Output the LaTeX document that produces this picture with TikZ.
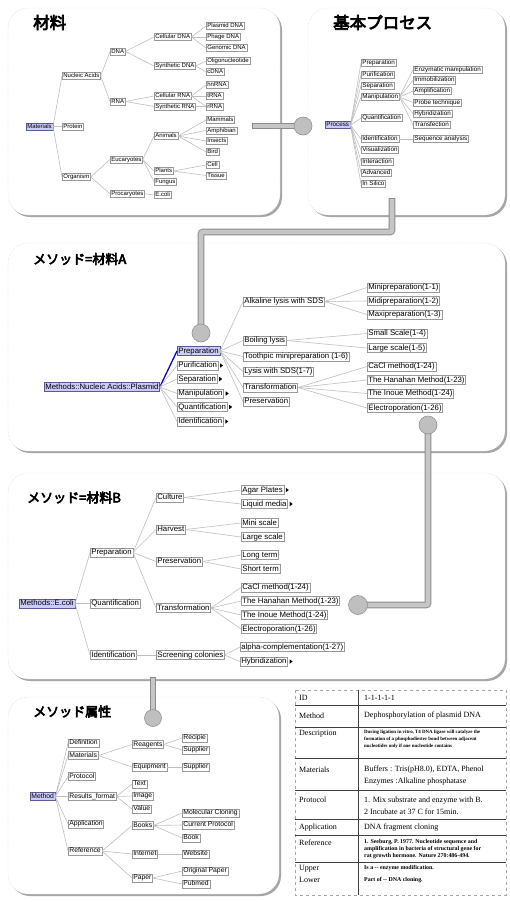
\documentclass[tikz,border=0pt]{standalone}
\usepackage{fontspec}
\setmainfont{Liberation Sans}
\newfontfamily\cjk[FakeBold=4.5]{Noto Sans CJK JP}
\newfontfamily\serf{Liberation Serif}
\usetikzlibrary{shadows}
\definecolor{rootblue}{RGB}{204,204,250}
\definecolor{rootedge}{RGB}{90,90,150}
\newcommand\mypanel[4]{%
  \fill[gray!70,rounded corners=20pt] (#1+2,#2+2) rectangle (#3+2,#4+2);
  \filldraw[fill=white,draw=gray!40,densely dotted,rounded corners=20pt] (#1,#2) rectangle (#3,#4);}
\newcommand\mytri[1]{\fill ([xshift=1.8pt]#1.east) -- ++(0,-2.2) -- ++(3,2.2) -- ++(-3,2.2) -- cycle;}
\begin{document}
\begin{tikzpicture}[x=1pt,y=-1pt,
  tn/.style={draw=gray!80,fill=white,inner xsep=1.1pt,inner ysep=0.7pt,anchor=west,line width=0.5pt,
     drop shadow={shadow xshift=0.7pt,shadow yshift=-0.7pt,fill=gray!45,opacity=1}},
  rt/.style={tn,fill=rootblue,draw=rootedge},
  f1/.style={font=\fontsize{6}{7}\selectfont,text height=4.3pt,text depth=1.2pt},
  f2/.style={font=\fontsize{6.3}{7}\selectfont,text height=4.6pt,text depth=1.3pt},
  fa/.style={font=\fontsize{7.8}{9}\selectfont,text height=5.7pt,text depth=1.7pt},
  fm/.style={font=\fontsize{6.8}{8}\selectfont,text height=5pt,text depth=1.4pt},
  ed/.style={draw=gray!50,line width=0.6pt},
  title/.style={anchor=west,inner sep=0pt,font=\cjk\fontsize{13}{15}\selectfont},
  bigtitle/.style={anchor=west,inner sep=0pt,font=\cjk\fontsize{16.5}{18}\selectfont},
  barout/.style={draw=gray!90,line width=6.6pt,rounded corners=2pt},
  barin/.style={draw=gray!45,line width=4.8pt,rounded corners=2pt},
  knob/.style={fill=gray!50,draw=gray!85,line width=0.6pt},
  tl/.style={anchor=west,inner sep=0pt,font=\serf\fontsize{8}{12}\selectfont,align=left},
  tsm/.style={anchor=west,inner sep=0pt,align=left},
  rowline/.style={draw=black!75,line width=0.6pt}
]
\useasboundingbox (0,0) rectangle (509,902);
\fill[white] (0,0) rectangle (509,902);

% panels
\mypanel{8}{8}{280}{215}
\mypanel{308}{8}{505}{215}
\mypanel{8}{243}{505}{451}
\mypanel{8}{473}{505}{679}
\mypanel{8}{697}{279}{894}

% titles
\node[bigtitle] (t1) at (33,22.5) {材料};
\node[bigtitle] (t2) at (333,22.5) {基本プロセス};
\node[title] (t3) at (33,259) {メソッド=材料A};
\node[title] (t4) at (27,497.5) {メソッド=材料B};
\node[title] (t5) at (33,711.5) {メソッド属性};

% connector bars between panels
\coordinate (b1a) at (252,126); \coordinate (b1b) at (303,126);
\coordinate (b2a) at (392,198); \coordinate (b2b) at (392,232); \coordinate (b2c) at (201,232); \coordinate (b2d) at (201,333);
\coordinate (b3a) at (428,425); \coordinate (b3b) at (428,605); \coordinate (b3c) at (358,605);
\coordinate (b4a) at (153,677); \coordinate (b4b) at (153,718);
\draw[barout] (b1a) -- (b1b); \draw[barin] ([xshift=0.9pt]b1a) -- (b1b);
\filldraw[knob] (b1b) circle (9pt);
\draw[barout] (b2a) -- (b2b) -- (b2c) -- (b2d); \draw[barin] ([yshift=-0.9pt]b2a) -- (b2b) -- (b2c) -- (b2d);
\filldraw[knob] (b2d) circle (9pt);
\draw[barout] (b3a) -- (b3b) -- (b3c); \draw[barin] (b3a) -- (b3b) -- (b3c);
\filldraw[knob] (b3a) circle (9pt);
\filldraw[knob] (b3c) circle (9.5pt);
\draw[barout] (b4a) -- (b4b); \draw[barin] ([yshift=-0.9pt]b4a) -- (b4b);
\filldraw[knob] (b4b) circle (8.5pt);

% ---------- panel 1: Materials
\node[rt,f1] (mat) at (26,126.5) {Materials};
\node[tn,f1] (na) at (62,76) {Nucleic Acids};
\node[tn,f1] (prot) at (62,126.5) {Protein};
\node[tn,f1] (org) at (62,177) {Organism};
\node[tn,f1] (dna) at (110,51.5) {DNA};
\node[tn,f1] (rna) at (110,101.5) {RNA};
\node[tn,f1] (euc) at (110,159.5) {Eucaryotes};
\node[tn,f1] (pro) at (110,193.7) {Procaryotes};
\node[tn,f1] (cdna) at (154,37) {Cellular DNA};
\node[tn,f1] (sdna) at (154,66) {Synthetic DNA};
\node[tn,f1] (crna) at (154,96) {Cellular RNA};
\node[tn,f1] (srna) at (154,106.5) {Synthetic RNA};
\node[tn,f1] (ani) at (154,136) {Animals};
\node[tn,f1] (pla) at (154,171) {Plants};
\node[tn,f1] (fun) at (154,181.5) {Fungus};
\node[tn,f1] (eco) at (154,195) {E.coli};
\node[tn,f1] (pdna) at (206,26) {Plasmid DNA};
\node[tn,f1] (phdna) at (206,37) {Phage DNA};
\node[tn,f1] (gdna) at (206,48) {Genomic DNA};
\node[tn,f1] (oli) at (206,61) {Oligonucleotide};
\node[tn,f1] (c2dna) at (206,72) {cDNA};
\node[tn,f1] (hn) at (206,85) {hnRNA};
\node[tn,f1] (trna) at (206,96) {tRNA};
\node[tn,f1] (rrna) at (206,106.5) {rRNA};
\node[tn,f1] (mam) at (206,120) {Mammals};
\node[tn,f1] (amp) at (206,130.5) {Amphibian};
\node[tn,f1] (ins) at (206,141) {Insects};
\node[tn,f1] (bird) at (206,152) {Bird};
\node[tn,f1] (cell) at (206,165) {Cell};
\node[tn,f1] (tis) at (206,175.5) {Tissue};
\foreach \a/\b in {mat/na,mat/prot,mat/org,na/dna,na/rna,dna/cdna,dna/sdna,cdna/pdna,cdna/phdna,cdna/gdna,
  sdna/oli,sdna/c2dna,rna/crna,rna/srna,crna/hn,crna/trna,crna/rrna,srna/rrna,org/euc,org/pro,
  euc/ani,euc/pla,euc/fun,ani/mam,ani/amp,ani/ins,ani/bird,pla/cell,pla/tis,pro/eco}
  \draw[ed] (\a.east) -- (\b.west);

% ---------- panel 2: Process
\node[rt,f2] (proc) at (325,125) {Process};
\node[tn,f2] (prep2) at (361,63) {Preparation};
\node[tn,f2] (puri2) at (361,74.5) {Purification};
\node[tn,f2] (sep2) at (361,85.5) {Separation};
\node[tn,f2] (man2) at (361,97) {Manipulation};
\node[tn,f2] (quan2) at (361,118) {Quantification};
\node[tn,f2] (iden2) at (361,139) {Identification};
\node[tn,f2] (vis2) at (361,150) {Visualization};
\node[tn,f2] (int2) at (361,161.5) {Interaction};
\node[tn,f2] (adv2) at (361,172.8) {Advanced};
\node[tn,f2] (sil2) at (361,184) {In Silico};
\node[tn,f2] (enz) at (413,69.7) {Enzymatic manipulation};
\node[tn,f2] (imm) at (413,80.3) {Immobilization};
\node[tn,f2] (ampl) at (413,91) {Amplification};
\node[tn,f2] (probe) at (413,102.5) {Probe technique};
\node[tn,f2] (hyb2) at (413,113.7) {Hybridization};
\node[tn,f2] (trans2) at (413,125) {Transfection};
\node[tn,f2] (seq) at (413,139) {Sequence analysis};
\foreach \b in {prep2,puri2,sep2,man2,quan2,iden2,vis2,int2,adv2,sil2}
  \draw[ed] (proc.east) -- (\b.west);
\foreach \b in {enz,imm,ampl,probe,hyb2,trans2}
  \draw[ed] (man2.east) -- (\b.west);
\draw[ed] (iden2.east) -- (seq.west);

% ---------- panel A
\node[rt,fa] (mna) at (44,387) {Methods::Nucleic Acids::Plasmid};
\node[rt,fa] (prepA) at (177,351) {Preparation};
\node[tn,fa] (puriA) at (177,365.5) {Purification};
\node[tn,fa] (sepA) at (177,379) {Separation};
\node[tn,fa] (manA) at (177,393.5) {Manipulation};
\node[tn,fa] (quanA) at (177,407) {Quantification};
\node[tn,fa] (idenA) at (177,421.5) {Identification};
\node[tn,fa] (alk) at (243,301.5) {Alkaline lysis with SDS};
\node[tn,fa] (boil) at (243,340.5) {Boiling lysis};
\node[tn,fa] (tooth) at (243,356.5) {Toothpic minipreparation (1-6)};
\node[tn,fa] (lys) at (243,371.5) {Lysis with SDS(1-7)};
\node[tn,fa] (transA) at (243,387.5) {Transformation};
\node[tn,fa] (pres) at (243,401.5) {Preservation};
\node[tn,fa] (mini) at (367,287.5) {Minipreparation(1-1)};
\node[tn,fa] (midi) at (367,301) {Midipreparation(1-2)};
\node[tn,fa] (maxi) at (367,314.5) {Maxipreparation(1-3)};
\node[tn,fa] (small) at (367,333.5) {Small Scale(1-4)};
\node[tn,fa] (large) at (367,348) {Large scale(1-5)};
\node[tn,fa] (cacl) at (367,366.5) {CaCl method(1-24)};
\node[tn,fa] (hana) at (367,380) {The Hanahan Method(1-23)};
\node[tn,fa] (inoue) at (367,393.5) {The Inoue Method(1-24)};
\node[tn,fa] (elec) at (367,408) {Electroporation(1-26)};
\draw[draw=blue,line width=1.3pt] (mna.east) -- (prepA.west);
\foreach \b in {puriA,sepA,manA,quanA,idenA}
  \draw[ed] (mna.east) -- (\b.west);
\foreach \b in {alk,boil,tooth,lys,transA,pres}
  \draw[ed] (prepA.east) -- (\b.west);
\foreach \a/\b in {alk/mini,alk/midi,alk/maxi,boil/small,boil/large,transA/cacl,transA/hana,transA/inoue,transA/elec}
  \draw[ed] (\a.east) -- (\b.west);
\mytri{puriA}\mytri{sepA}\mytri{manA}\mytri{quanA}\mytri{idenA}

% ---------- panel B
\node[rt,fa] (meco) at (19,603.5) {Methods::E.coli};
\node[tn,fa] (prepB) at (90,552.5) {Preparation};
\node[tn,fa] (quanB) at (90,603.5) {Quantification};
\node[tn,fa] (idenB) at (90,655) {Identification};
\node[tn,fa] (cul) at (156,497.5) {Culture};
\node[tn,fa] (har) at (156,529.5) {Harvest};
\node[tn,fa] (presB) at (156,561.5) {Preservation};
\node[tn,fa] (transB) at (156,608) {Transformation};
\node[tn,fa] (scr) at (156,655) {Screening colonies};
\node[tn,fa] (agar) at (241,490) {Agar Plates};
\node[tn,fa] (liq) at (241,504) {Liquid media};
\node[tn,fa] (minis) at (241,523) {Mini scale};
\node[tn,fa] (larges) at (241,537) {Large scale};
\node[tn,fa] (long) at (241,555) {Long term};
\node[tn,fa] (short) at (241,569) {Short term};
\node[tn,fa] (caclB) at (241,587.5) {CaCl method(1-24)};
\node[tn,fa] (hanaB) at (241,601) {The Hanahan Method(1-23)};
\node[tn,fa] (inoueB) at (241,615) {The Inoue Method(1-24)};
\node[tn,fa] (elecB) at (241,629) {Electroporation(1-26)};
\node[tn,fa] (alpha) at (240,647) {alpha-complementation(1-27)};
\node[tn,fa] (hybB) at (240,661.5) {Hybridization};
\foreach \a/\b in {meco/prepB,meco/quanB,meco/idenB,prepB/cul,prepB/har,prepB/presB,prepB/transB,
  cul/agar,cul/liq,har/minis,har/larges,presB/long,presB/short,transB/caclB,transB/hanaB,
  transB/inoueB,transB/elecB,idenB/scr,scr/alpha,scr/hybB}
  \draw[ed] (\a.east) -- (\b.west);
\mytri{agar}\mytri{liq}\mytri{hybB}

% ---------- Method panel
\node[rt,fm] (meth) at (30,796.5) {Method};
\node[tn,fm] (def) at (68,743) {Definition};
\node[tn,fm] (matM) at (68,755.5) {Materials};
\node[tn,fm] (protM) at (68,776.5) {Protocol};
\node[tn,fm] (res) at (68,796.5) {Results\_format};
\node[tn,fm] (app) at (68,824) {Application};
\node[tn,fm] (ref) at (68,851) {Reference};
\node[tn,fm] (reag) at (132,744.5) {Reagents};
\node[tn,fm] (equ) at (132,767) {Equipment};
\node[tn,fm] (txt) at (132,784) {Text};
\node[tn,fm] (img) at (132,796) {Image};
\node[tn,fm] (val) at (132,809) {Value};
\node[tn,fm] (books) at (132,825.5) {Books};
\node[tn,fm] (inet) at (132,854) {Internet};
\node[tn,fm] (paper) at (132,878) {Paper};
\node[tn,fm] (rec) at (182,738) {Recipie};
\node[tn,fm] (sup1) at (182,750) {Supplier};
\node[tn,fm] (sup2) at (182,767) {Supplier};
\node[tn,fm] (mol) at (182,813) {Molecular Cloning};
\node[tn,fm] (cur) at (182,825) {Current Protocol};
\node[tn,fm] (book) at (182,838) {Book};
\node[tn,fm] (web) at (182,854) {Website};
\node[tn,fm] (orig) at (182,871) {Original Paper};
\node[tn,fm] (pub) at (182,884) {Pubmed};
\foreach \a/\b in {meth/def,meth/matM,meth/protM,meth/res,meth/app,meth/ref,matM/reag,matM/equ,
  reag/rec,reag/sup1,equ/sup2,res/txt,res/img,res/val,ref/books,ref/inet,ref/paper,
  books/mol,books/cur,books/book,inet/web,paper/orig,paper/pub}
  \draw[ed] (\a.east) -- (\b.west);

% ---------- table
\draw[gray!70,dashed,line width=0.5pt] (295,690) rectangle (506,895);
\draw[rowline] (358,690) -- (358,895);
\foreach \yy in {705,727,758,790,819,835,862}
  \draw[rowline] (295,\yy) -- (506,\yy);
\node[tl] (lid) at (299,697.5) {ID};
\node[tl] (vid) at (364,697.5) {1-1-1-1-1};
\node[tl] (lme) at (299,716) {Method};
\node[tl] (vme) at (364,716) {Dephosphorylation of plasmid DNA};
\node[tl] (lde) at (299,733.5) {Description};
\node[tsm,anchor=north west,font=\serf\bfseries\fontsize{4.9}{7}\selectfont] (vde) at (364,729.5)
  {During ligation in vitro, T4 DNA ligase will catalyze the\\formation of a phosphodiester bond between adjacent\\nucleotides only if one nucleotide contains};
\node[tl] (lma) at (299,770) {Materials};
\node[tl] (vma) at (364,776) {Buffers : Tris(pH8.0), EDTA, Phenol\\Enzymes :Alkaline phosphatase};
\node[tl] (lpr) at (299,800) {Protocol};
\node[tl] (vpr) at (364,806) {1. Mix substrate and enzyme with B.\\2 Incubate at 37 C for 15min.};
\node[tl] (lap) at (299,827.5) {Application};
\node[tl] (vap) at (364,827.5) {DNA fragment cloning};
\node[tl] (lre) at (299,842.5) {Reference};
\node[tsm,font=\serf\bfseries\fontsize{5.9}{7}\selectfont] (vre) at (364,849)
  {1. Seeburg, P. 1977. Nucleotide sequence and\\amplification in bacteria of structural gene for\\rat growth hormone. Nature 270:486-494.};
\node[tl] (lul) at (299,874) {Upper\\Lower};
\node[tsm,font=\serf\bfseries\fontsize{5.9}{12}\selectfont] (vul) at (364,874)
  {Is a -- enzyme modification.\\Part of -- DNA cloning.};
\end{tikzpicture}
\end{document}
